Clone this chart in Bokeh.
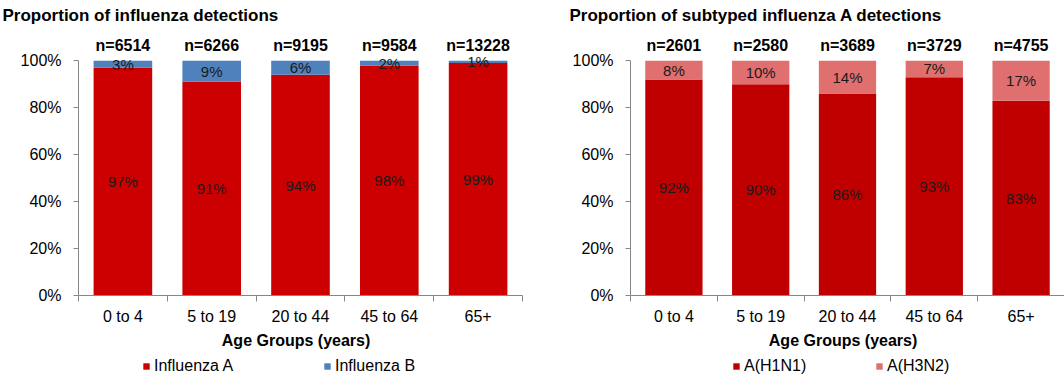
from bokeh.plotting import figure
from bokeh.models import (ColumnDataSource, Range1d, FixedTicker, Legend, LegendItem)
from bokeh.layouts import row, column
from bokeh.embed import file_html
from bokeh.resources import INLINE
from bokeh.core.properties import value

categories = ["0 to 4", "5 to 19", "20 to 44", "45 to 64", "65+"]

# Left chart: proportion of influenza detections
flu_n = [6514, 6266, 9195, 9584, 13228]
flu_a = [97, 91, 94, 98, 99]
flu_b = [3, 9, 6, 2, 1]

# Right chart: proportion of subtyped influenza A detections
sub_n = [2601, 2580, 3689, 3729, 4755]
h1n1 = [92, 90, 86, 93, 83]
h3n2 = [8, 10, 14, 7, 17]

y_ticks = [0, 20, 40, 60, 80, 100]

FONT = "Liberation Sans"
C_A, C_B = "#CC0000", "#4F81BD"
C_H1, C_H3 = "#C00000", "#E07070"


def make_chart(title, lower, upper, n, lower_color, upper_color,
               border_left, border_right, title_offset):
    xs = [i + 0.5 for i in range(len(categories))]
    src = ColumnDataSource(dict(
        x=xs,
        lo=lower,
        top=[a + b for a, b in zip(lower, upper)],
        lo_mid=[a / 2 for a in lower],
        up_mid=[a + b / 2 for a, b in zip(lower, upper)],
        lo_lab=[f"{a}%" for a in lower],
        up_lab=[f"{b}%" for b in upper],
        n_lab=[f"n={v}" for v in n],
        n_y=[106.5] * len(n),
    ))
    p = figure(width=532, height=355, output_backend="svg", toolbar_location=None,
               x_range=Range1d(0, len(categories)), y_range=Range1d(0, 115),
               min_border_left=border_left, min_border_right=border_right,
               min_border_top=25, min_border_bottom=60)
    p.outline_line_color = None
    p.xgrid.visible = False
    p.ygrid.visible = False
    p.background_fill_color = "white"
    p.border_fill_color = "white"

    p.vbar(x="x", bottom=0, top="lo", width=0.66, source=src,
           fill_color=lower_color, line_color=None)
    p.vbar(x="x", bottom="lo", top="top", width=0.66, source=src,
           fill_color=upper_color, line_color=None)

    p.text(x="x", y="lo_mid", text="lo_lab", source=src, text_align="center",
           text_baseline="middle", text_font=value(FONT), text_font_size="15px",
           text_color="#1a1a1a")
    p.text(x="x", y="up_mid", text="up_lab", source=src, text_align="center",
           text_baseline="middle", text_font=value(FONT), text_font_size="15px",
           text_color="#1a1a1a")
    p.text(x="x", y="n_y", text="n_lab", source=src, text_align="center",
           text_baseline="middle", text_font=value(FONT), text_font_size="16px",
           text_font_style="bold", text_color="black")

    # x axis
    xa = p.xaxis[0]
    xa.ticker = FixedTicker(ticks=xs, minor_ticks=list(range(len(categories) + 1)))
    xa.major_label_overrides = {x: c for x, c in zip(xs, categories)}
    xa.major_tick_line_color = None
    xa.minor_tick_line_color = "#868686"
    xa.minor_tick_out = 6
    xa.minor_tick_in = 0
    xa.axis_line_color = "#868686"
    xa.major_label_text_font = FONT
    xa.major_label_text_font_size = "16px"
    xa.major_label_text_color = "black"
    xa.major_label_standoff = 6
    xa.axis_label = "Age  Groups  (years)"
    xa.axis_label_text_font = FONT
    xa.axis_label_text_font_size = "16px"
    xa.axis_label_text_font_style = "bold"
    xa.axis_label_text_color = "black"
    xa.axis_label_standoff = 4

    # y axis
    ya = p.yaxis[0]
    ya.ticker = FixedTicker(ticks=y_ticks)
    ya.bounds = (0, 100)
    ya.major_label_overrides = {t: f"{t}%" for t in y_ticks}
    ya.major_tick_out = 5
    ya.major_tick_in = 0
    ya.minor_tick_line_color = None
    ya.axis_line_color = "#868686"
    ya.major_tick_line_color = "#868686"
    ya.major_label_text_font = FONT
    ya.major_label_text_font_size = "16px"
    ya.major_label_text_color = "black"
    ya.major_label_standoff = 12

    # title
    p.title.text = title
    p.title.align = "left"
    p.title.offset = title_offset
    p.title.text_font = FONT
    p.title.text_font_size = "17px"
    p.title.text_font_style = "bold"
    p.title.text_color = "black"
    p.title.standoff = 2
    return p


p1 = make_chart("Proportion  of  influenza  detections", flu_a, flu_b, flu_n,
                C_A, C_B, 78, 10, -76)
p2 = make_chart("Proportion  of  subtyped  influenza  A  detections", h1n1, h3n2, sub_n,
                C_H1, C_H3, 98, 0, -61)

# legend strip below both charts
lf = figure(width=1064, height=22, output_backend="svg", toolbar_location=None,
            x_range=Range1d(0, 1), y_range=Range1d(0, 1),
            x_axis_type=None, y_axis_type=None,
            min_border_left=0, min_border_right=0, min_border_top=0, min_border_bottom=0)
lf.outline_line_color = None
lf.xgrid.visible = False
lf.ygrid.visible = False

legend_names = ["Influenza A", "Influenza B", "A(H1N1)", "A(H3N2)"]
legend_colors = [C_A, C_B, C_H1, C_H3]
legend_x = [142, 323, 732, 875]
for name, col, lx in zip(legend_names, legend_colors, legend_x):
    # a zero-area bar, only to carry the legend swatch colour
    r = lf.vbar(x=[0.5], bottom=[0], top=[0], width=0, fill_color=col, line_color=None)
    leg = Legend(items=[LegendItem(label=name, renderers=[r])],
                 location=(lx, 2), orientation="horizontal",
                 glyph_width=8, glyph_height=8, label_standoff=4,
                 label_text_font=FONT, label_text_font_size="16px",
                 label_text_color="black", padding=0, margin=0,
                 border_line_color=None, background_fill_alpha=0,
                 label_height=16)
    lf.add_layout(leg, "center")

layout = column(row(p1, p2, spacing=0), lf, spacing=0)
open("out.html", "w").write(file_html(layout, INLINE))
